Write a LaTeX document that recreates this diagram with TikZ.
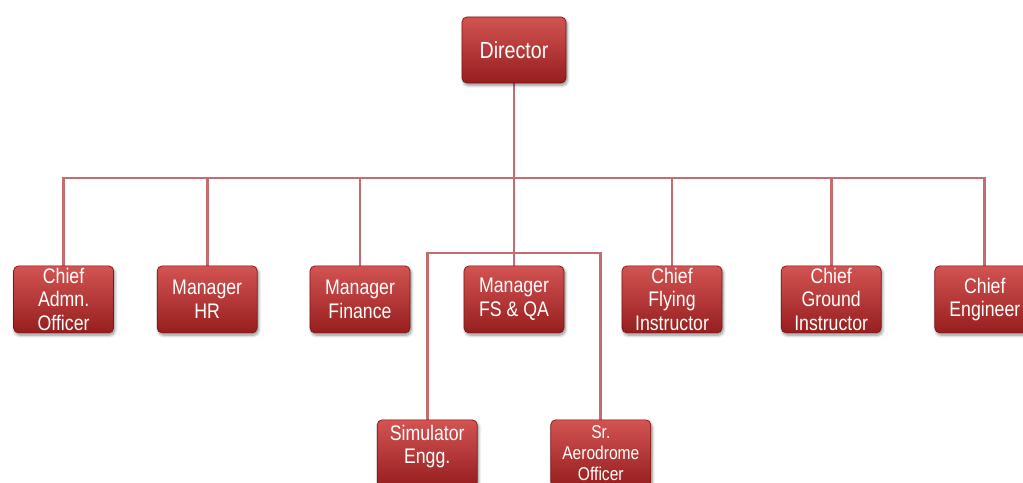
\documentclass[tikz,border=0pt]{standalone}
\usepackage{fontspec}
\setmainfont[FakeStretch=0.84]{Liberation Sans}
\usetikzlibrary{
    backgrounds,
    shadows.blur
}
\definecolor{boxred}{RGB}{190,46,46}
\definecolor{boxtop}{RGB}{210,84,82}
\definecolor{boxbottom}{RGB}{150,30,30}
\definecolor{boxedge}{RGB}{120,22,22}
\definecolor{linkred}{RGB}{198,108,110}
\tikzset{
    pop/.style={
        blur shadow={shadow blur steps=6, shadow xshift=0.9pt, shadow yshift=-1.6pt, shadow blur extra rounding=1.3pt, shadow opacity=45}
    },
    post/.style={
        rectangle,
        rounded corners=3.5pt,
        draw=boxedge,
        line width=0.5pt,
        top color=boxtop,
        middle color=boxred,
        bottom color=boxbottom,
        text=white,
        minimum width=2.5cm,
        minimum height=1.675cm,
        inner sep=0.5pt,
        align=center,
        font=\fontsize{15}{16.6}\selectfont,
        pop
    },
    head/.style={
        post,
        minimum width=2.6cm,
        minimum height=1.65cm,
        font=\fontsize{16.6}{18}\selectfont
    },
    link/.style={
        draw=linkred,
        line width=2.1pt
    }
}

\begin{document}
\begin{tikzpicture}
\useasboundingbox (0,0) rectangle (25.575,12.075);

% top
\node[head] (director) at (12.85, 10.825) {Director};

% second row
\node[post] (admn)     at (1.59, 4.59)  {Chief\\Admn.\\Officer};
\node[post] (hr)       at (5.18, 4.59)  {Manager\\HR};
\node[post] (finance)  at (9.0, 4.59)   {Manager\\Finance};
\node[post] (fsqa)     at (12.85, 4.59) {Manager\\FS \& QA};
\node[post] (flying)   at (16.8, 4.59)  {Chief\\Flying\\Instructor};
\node[post] (ground)   at (20.78, 4.59) {Chief\\Ground\\Instructor};
\node[post] (engineer) at (24.62, 4.59) {Chief\\Engineer};

% third row
\node[post, text depth=0.45cm] (simulator) at (10.68, 0.74) {Simulator\\Engg.};
\node[post, font=\fontsize{13.2}{14.8}\selectfont] (aerodrome) at (15.02, 0.74) {Sr.\\Aerodrome\\Officer};

\coordinate (bus) at (0, 7.625);
\coordinate (subbus) at (0, 5.75);

\begin{scope}[on background layer]
    \draw[link] (director) -- (fsqa);
    \foreach \c in {admn,hr,finance,flying,ground,engineer} {
        \draw[link] (director.south |- bus) -| (\c.north);
    }
    \foreach \c in {simulator,aerodrome} {
        \draw[link] (director.south |- subbus) -| (\c.north);
    }
\end{scope}

\end{tikzpicture}
\end{document}
